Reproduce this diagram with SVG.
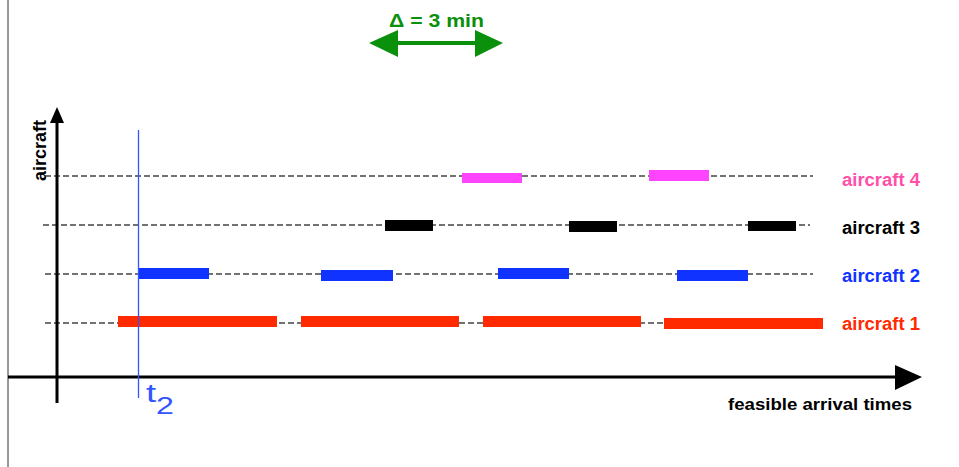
<svg xmlns="http://www.w3.org/2000/svg" width="959" height="467" viewBox="0 0 959 467">
<style>
.lbl{font-family:"Liberation Sans",Arial,sans-serif;font-weight:bold;}
.dash{stroke:#444;stroke-width:1.3;stroke-dasharray:6 3;fill:none;}
.ax{stroke:#000;stroke-width:3;fill:none;}
</style>
<rect width="959" height="467" fill="#fff"/>
<line x1="8" y1="0" x2="8" y2="467" stroke="#333" stroke-width="1"/>
<g id="connectors">
<line class="dash" x1="45" y1="176" x2="813" y2="176"/>
<line class="dash" x1="43" y1="225" x2="810" y2="225"/>
<line class="dash" x1="45" y1="274" x2="813" y2="274"/>
<line class="dash" x1="45" y1="323" x2="820" y2="323"/>
</g>
<g id="axes">
<line class="ax" x1="57" y1="120" x2="57" y2="403"/>
<polygon points="57,107 50,123 64,123" fill="#000"/>
<line class="ax" x1="8" y1="377" x2="897" y2="377"/>
<polygon points="922,377 895,365 895,390" fill="#000"/>
<text class="lbl" transform="translate(46,181) rotate(-90)" font-size="18" textLength="61" lengthAdjust="spacingAndGlyphs">aircraft</text>
<text class="lbl" x="728" y="410" font-size="17" textLength="184" lengthAdjust="spacingAndGlyphs">feasible arrival times</text>
</g>
<g id="aircraft4">
<rect x="462" y="173" width="60" height="10" fill="#ff44ff"/>
<rect x="649" y="170" width="60" height="11" fill="#ff44ff"/>
<text class="lbl" x="842" y="186" font-size="17.5" fill="#ff4fa8" textLength="78" lengthAdjust="spacingAndGlyphs">aircraft 4</text>
</g>
<g id="aircraft3">
<rect x="385" y="220" width="48" height="11" fill="#000"/>
<rect x="569" y="221" width="48" height="11" fill="#000"/>
<rect x="748" y="221" width="48" height="10" fill="#000"/>
<text class="lbl" x="842" y="234" font-size="17.5" fill="#000" textLength="78" lengthAdjust="spacingAndGlyphs">aircraft 3</text>
</g>
<g id="aircraft2">
<rect x="138" y="268" width="71" height="11" fill="#1133ff"/>
<rect x="321" y="270" width="72" height="11" fill="#1133ff"/>
<rect x="498" y="268" width="71" height="11" fill="#1133ff"/>
<rect x="677" y="270" width="71" height="11" fill="#1133ff"/>
<text class="lbl" x="842" y="282" font-size="17.5" fill="#1133ff" textLength="78" lengthAdjust="spacingAndGlyphs">aircraft 2</text>
</g>
<g id="aircraft1">
<rect x="118" y="316" width="159" height="11" fill="#ff2a00"/>
<rect x="301" y="316" width="158" height="11" fill="#ff2a00"/>
<rect x="483" y="316" width="158" height="11" fill="#ff2a00"/>
<rect x="664" y="318" width="159" height="11" fill="#ff2a00"/>
<text class="lbl" x="842" y="330" font-size="17.5" fill="#ff2a00" textLength="78" lengthAdjust="spacingAndGlyphs">aircraft 1</text>
</g>
<g id="t2">
<line x1="138.5" y1="130" x2="138.5" y2="398" stroke="#3355ff" stroke-width="1.3"/>
<text transform="translate(146,402) scale(1.4,1)" font-family="Liberation Sans,Arial,sans-serif" font-size="26" fill="#3355ff">t<tspan font-size="23" dy="12">2</tspan></text>
</g>
<g id="delta">
<line x1="395" y1="43" x2="477" y2="43" stroke="#0a900a" stroke-width="4"/>
<polygon points="369,43 398,30 398,57" fill="#0a900a"/>
<polygon points="503,43 475,30 475,57" fill="#0a900a"/>
<text class="lbl" x="389" y="27" font-size="19" fill="#0a900a" textLength="95" lengthAdjust="spacingAndGlyphs">Δ = 3 min</text>
</g>
</svg>
